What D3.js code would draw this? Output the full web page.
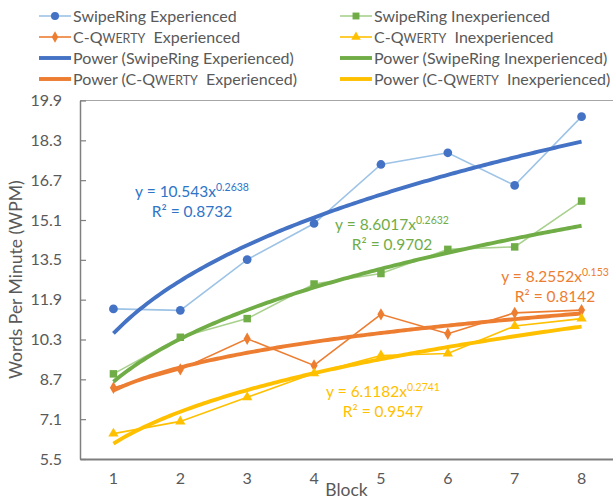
<!DOCTYPE html>
<html>
<head>
<meta charset="utf-8">
<script src="https://cdn.jsdelivr.net/npm/d3@7"></script>
<style>
  html, body { margin: 0; padding: 0; background: #fff; }
  svg { display: block; font-family: Lato, "Open Sans", sans-serif; }
</style>
</head>
<body>
<svg id="chart" width="613" height="500"></svg>
<script>
// Learning curves: text entry speed per block
const blocks = [1, 2, 3, 4, 5, 6, 7, 8];
const swipeRingExperienced   = [11.53, 11.47, 13.51, 14.96, 17.33, 17.80, 16.49, 19.25];
const swipeRingInexperienced = [8.92, 10.39, 11.14, 12.53, 12.95, 13.92, 14.02, 15.86];
const cQwertyExperienced     = [8.36, 9.10, 10.33, 9.26, 11.31, 10.53, 11.37, 11.48];
const cQwertyInexperienced   = [6.52, 7.01, 7.98, 8.94, 9.66, 9.74, 10.84, 11.14];

// Power trendlines y = a * x^b with goodness of fit
const powerA  = [10.543, 8.6017, 8.2552, 6.1182];
const powerB  = [0.2638, 0.2632, 0.153, 0.2741];
const powerR2 = ["0.8732", "0.9702", "0.8142", "0.9547"];

const yTicks = [5.5, 7.1, 8.7, 10.3, 11.9, 13.5, 15.1, 16.7, 18.3, 19.9];

const series = [
  { key: "swipeExp",   values: swipeRingExperienced,   line: "#9DC3E6", mark: "#4472C4", trend: "#4472C4", label: "#2E75C8", symbol: d3.symbolCircle,   size: 60 },
  { key: "swipeInexp", values: swipeRingInexperienced, line: "#A9D18E", mark: "#70AD47", trend: "#70AD47", label: "#70AD47", symbol: d3.symbolSquare,   size: 56 },
  { key: "qwExp",      values: cQwertyExperienced,     line: "#ED7D31", mark: "#ED7D31", trend: "#ED7D31", label: "#ED7D31", symbol: d3.symbolDiamond,  size: 44 },
  { key: "qwInexp",    values: cQwertyInexperienced,   line: "#FFC000", mark: "#FFC000", trend: "#FFC000", label: "#FFC000", symbol: d3.symbolTriangle, size: 46 }
];

const svg = d3.select("#chart");
const plot = { left: 80, right: 615, top: 100.5, bottom: 459 };

const x = d3.scaleBand().domain(blocks).range([plot.left, plot.right]);
const cx = b => x(b) + x.bandwidth() / 2;
const xCont = d3.scaleLinear().domain([1, 8]).range([cx(1), cx(8)]);
const y = d3.scaleLinear().domain([5.5, 19.9]).range([plot.bottom, plot.top]);

const grey = "#595959";

// Plot frame (top edge)
svg.append("line")
  .attr("x1", plot.left).attr("x2", 613)
  .attr("y1", plot.top).attr("y2", plot.top)
  .attr("stroke", "#A6A6A6").attr("stroke-width", 1.2);

// Y axis with inward ticks
const yAxis = d3.axisLeft(y).tickValues(yTicks).tickFormat(d3.format(".1f")).tickSizeInner(-6).tickSizeOuter(0).tickPadding(18);
const gy = svg.append("g").attr("transform", `translate(${plot.left},0)`).call(yAxis);
gy.select(".domain").attr("stroke", "#7F7F7F").attr("stroke-width", 1.5);
gy.selectAll(".tick line").attr("stroke", "#7F7F7F").attr("stroke-width", 1.2);
gy.selectAll(".tick text").attr("fill", grey).attr("font-size", 16).attr("font-family", "Lato, sans-serif");

// X axis
const xAxis = d3.axisBottom(x).tickSize(0).tickPadding(14);
const gx = svg.append("g").attr("transform", `translate(0,${plot.bottom})`).call(xAxis);
gx.select(".domain").attr("stroke", "#7F7F7F").attr("stroke-width", 2);
gx.selectAll(".tick text").attr("fill", grey).attr("font-size", 16).attr("font-family", "Lato, sans-serif");

// Axis titles
svg.append("text")
  .attr("transform", `translate(18,${(plot.top + plot.bottom) / 2}) rotate(-90)`)
  .attr("text-anchor", "middle").attr("dominant-baseline", "middle")
  .attr("fill", grey).attr("font-size", 17.5)
  .text("Words Per Minute (WPM)");
svg.append("text")
  .attr("x", (plot.left + 613) / 2).attr("y", 496)
  .attr("text-anchor", "middle")
  .attr("fill", grey).attr("font-size", 17.5)
  .text("Block");

// Data lines
const line = d3.line().x((d, i) => cx(blocks[i])).y(d => y(d));
series.forEach(s => {
  svg.append("path").datum(s.values)
    .attr("d", line).attr("fill", "none")
    .attr("stroke", s.line).attr("stroke-width", 1.6);
});

// Power trendlines
const samples = d3.range(1, 8.0001, 0.05);
series.forEach((s, i) => {
  const pts = samples.map(t => [xCont(t), y(powerA[i] * Math.pow(t, powerB[i]))]);
  svg.append("path").datum(pts)
    .attr("d", d3.line())
    .attr("fill", "none").attr("stroke", s.trend)
    .attr("stroke-width", 3.9).attr("stroke-linecap", "butt");
});

// Markers
series.forEach(s => {
  svg.append("g").selectAll("path").data(s.values).join("path")
    .attr("transform", (d, i) => `translate(${cx(blocks[i])},${y(d)})`)
    .attr("d", d3.symbol(s.symbol, s.size))
    .attr("fill", s.mark);
});

// Trendline equations
const eqPos = [[192, 197], [392, 230], [555, 282], [383, 397]];
series.forEach((s, i) => {
  const g = svg.append("g").attr("fill", s.label).attr("font-size", 15.5);
  const t1 = g.append("text").attr("x", eqPos[i][0]).attr("y", eqPos[i][1]).attr("text-anchor", "middle");
  t1.append("tspan").text(`y = ${powerA[i]}x`);
  t1.append("tspan").attr("font-size", 10.5).attr("dy", -6).text(powerB[i]);
  g.append("text").attr("x", eqPos[i][0]).attr("y", eqPos[i][1] + 20).attr("text-anchor", "middle")
    .text(`R² = ${powerR2[i]}`);
});

// Legend
const legendItems = [
  { s: 0, trend: false, parts: [["SwipeRing Experienced"]] },
  { s: 1, trend: false, parts: [["SwipeRing Inexperienced"]] },
  { s: 2, trend: false, parts: [["C-Q"], ["WERTY", true], ["  Experienced"]] },
  { s: 3, trend: false, parts: [["C-Q"], ["WERTY", true], ["  Inexperienced"]] },
  { s: 0, trend: true,  parts: [["Power (SwipeRing Experienced)"]] },
  { s: 1, trend: true,  parts: [["Power (SwipeRing Inexperienced)"]] },
  { s: 2, trend: true,  parts: [["Power (C-Q"], ["WERTY", true], ["  Experienced)"]] },
  { s: 3, trend: true,  parts: [["Power (C-Q"], ["WERTY", true], ["  Inexperienced)"]] }
];
const colX = [39, 340];
const rowY = [16, 37, 58, 79];
legendItems.forEach((it, k) => {
  const s = series[it.s];
  const lx = colX[k % 2], ly = rowY[Math.floor(k / 2)];
  const g = svg.append("g").attr("transform", `translate(${lx},${ly})`);
  g.append("line").attr("x1", 0).attr("x2", 32).attr("y1", 0).attr("y2", 0)
    .attr("stroke", it.trend ? s.trend : s.line)
    .attr("stroke-width", it.trend ? 3.9 : 1.6);
  if (!it.trend) {
    g.append("path").attr("transform", "translate(16,0)")
      .attr("d", d3.symbol(s.symbol, s.size * 0.85)).attr("fill", s.mark);
  }
  const t = g.append("text").attr("x", 34).attr("y", 0).attr("dy", "0.35em")
    .attr("fill", grey).attr("font-size", 16).attr("xml:space", "preserve")
    .style("white-space", "pre");
  it.parts.forEach(p => {
    const ts = t.append("tspan").text(p[0]);
    if (p[1]) ts.attr("font-size", 12.5);
  });
});
</script>
</body>
</html>
